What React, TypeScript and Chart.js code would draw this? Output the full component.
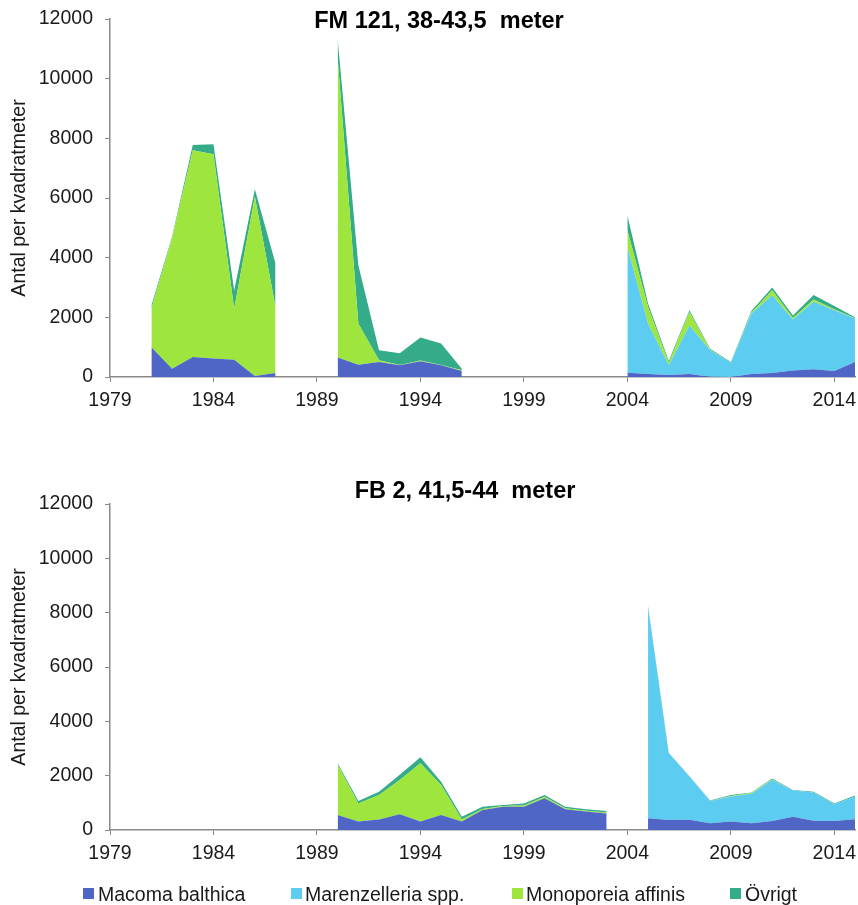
import React, { useEffect, useRef } from 'react';
import { Chart, registerables } from 'chart.js';

Chart.register(...registerables);

const N = null;

const years = [
  1979, 1980, 1981, 1982, 1983, 1984, 1985, 1986, 1987, 1988,
  1989, 1990, 1991, 1992, 1993, 1994, 1995, 1996, 1997, 1998,
  1999, 2000, 2001, 2002, 2003, 2004, 2005, 2006, 2007, 2008,
  2009, 2010, 2011, 2012, 2013, 2014, 2015,
];

const xTickLabels = [1979, 1984, 1989, 1994, 1999, 2004, 2009, 2014];
const yTickValues = [0, 2000, 4000, 6000, 8000, 10000, 12000];

const seriesNames = ['Macoma balthica', 'Marenzelleria spp.', 'Monoporeia affinis', 'Övrigt'];
const seriesColors = ['#4F66C6', '#5DCCF1', '#9EE53D', '#34AB89'];

const titleFM = 'FM 121, 38-43,5  meter';
const titleFB = 'FB 2, 41,5-44  meter';
const yTitle = 'Antal per kvadratmeter';

// FM 121 (top chart), one value per year 1979..2015, null = no sample
const fmMacoma = [N, N, 1000, 280, 670, 620, 580, 30, 130, N, N, 650, 410, 500, 390, 530, 390, 200, N, N, N, N, N, N, N, 140, 100, 70, 100, 10, 0, 100, 130, 220, 260, 200, 500];
const fmMarenz = [N, N, 0, 0, 0, 0, 0, 0, 0, N, N, 0, 0, 0, 0, 0, 0, 0, N, N, N, N, N, N, N, 4220, 1690, 320, 1630, 885, 480, 2025, 2610, 1705, 2260, 2040, 1460];
const fmMono = [N, N, 1300, 4370, 6930, 6850, 1710, 6010, 2220, N, N, 10050, 1380, 60, 10, 20, 10, 30, N, N, N, N, N, N, N, 560, 560, 80, 450, 20, 0, 40, 170, 50, 80, 30, 10];
const fmOvrigt = [N, N, 100, 50, 180, 330, 610, 250, 1450, N, N, 630, 1960, 340, 400, 770, 720, 50, N, N, N, N, N, N, N, 500, 110, 70, 60, 35, 20, 55, 90, 85, 150, 110, 30];

// FB 2 (bottom chart)
const fbMacoma = [N, N, N, N, N, N, N, N, N, N, N, 550, 310, 390, 580, 310, 550, 310, 740, 860, 860, 1170, 760, 680, 610, N, 430, 370, 380, 250, 310, 250, 330, 490, 340, 330, 400];
const fbMarenz = [N, N, N, N, N, N, N, N, N, N, N, 0, 0, 0, 0, 0, 0, 0, 0, 0, 0, 0, 0, 0, 0, N, 7800, 2460, 1590, 820, 920, 1080, 1510, 960, 1040, 620, 830];
const fbMono = [N, N, N, N, N, N, N, N, N, N, N, 1850, 670, 900, 1260, 2150, 1110, 80, 30, 20, 40, 50, 40, 30, 30, N, 0, 0, 0, 0, 20, 30, 20, 0, 0, 0, 0];
const fbOvrigt = [N, N, N, N, N, N, N, N, N, N, N, 60, 90, 120, 190, 220, 120, 100, 90, 40, 80, 70, 60, 50, 60, N, 20, 10, 10, 20, 40, 20, 40, 20, 30, 30, 40];

const FONT = "'Liberation Sans', Arial, Helvetica, sans-serif";
const AXIS = '#8A8A8A';
const TEXT = '#1A1A1A';

function buildConfig(series: (number | null)[][], padTop: number, padBottom: number): any {
  const datasets = series.map((vals, i) => ({
    label: seriesNames[i],
    data: years.map((yr, k) => ({ x: yr, y: vals[k] })),
    backgroundColor: seriesColors[i],
    borderColor: seriesColors[i],
    borderWidth: 0,
    pointRadius: 0,
    pointHoverRadius: 0,
    tension: 0,
    spanGaps: false,
    fill: i === 0 ? 'origin' : '-1',
  }));
  return {
    type: 'line',
    data: { datasets },
    options: {
      responsive: false,
      animation: false,
      events: [],
      layout: { padding: { top: padTop, right: 3, bottom: padBottom, left: 0 } },
      plugins: { legend: { display: false }, tooltip: { enabled: false }, title: { display: false } },
      scales: {
        x: {
          type: 'linear',
          min: 1979,
          max: 2015,
          afterBuildTicks: (s: any) => {
            s.ticks = xTickLabels.map((v) => ({ value: v }));
          },
          afterFit: (s: any) => {
            s.height = 40;
            s.paddingLeft = 0;
            s.paddingRight = 0;
          },
          ticks: {
            autoSkip: false,
            maxRotation: 0,
            padding: 7,
            color: TEXT,
            font: { family: FONT, size: 19.5 },
            callback: (v: any) => String(v),
          },
          grid: { display: true, drawOnChartArea: false, drawTicks: true, tickLength: 5, color: AXIS, lineWidth: 1 },
          border: { display: true, color: AXIS, width: 1.5 },
        },
        y: {
          stacked: true,
          min: 0,
          max: 12000,
          afterBuildTicks: (s: any) => {
            s.ticks = yTickValues.map((v) => ({ value: v }));
          },
          afterFit: (s: any) => {
            s.width = 110;
            s.paddingTop = 0;
            s.paddingBottom = 0;
          },
          ticks: {
            padding: 12,
            color: TEXT,
            font: { family: FONT, size: 19.5 },
            callback: (v: any) => String(v),
          },
          title: {
            display: true,
            text: yTitle,
            color: TEXT,
            font: { family: FONT, size: 19.5 },
            padding: { top: 8, bottom: 0 },
          },
          grid: { display: true, drawOnChartArea: false, drawTicks: true, tickLength: 5, color: AXIS, lineWidth: 1 },
          border: { display: true, color: AXIS, width: 1.5 },
        },
      },
    },
  };
}

const legendPos = [
  { box: 83, text: 98 },
  { box: 291, text: 305 },
  { box: 512, text: 526 },
  { box: 730, text: 745 },
];

export default function App() {
  const topRef = useRef<HTMLCanvasElement>(null);
  const botRef = useRef<HTMLCanvasElement>(null);

  useEffect(() => {
    const c1 = new Chart(topRef.current as HTMLCanvasElement, buildConfig([fmMacoma, fmMarenz, fmMono, fmOvrigt], 19, 13));
    const c2 = new Chart(botRef.current as HTMLCanvasElement, buildConfig([fbMacoma, fbMarenz, fbMono, fbOvrigt], 74, 35));
    return () => {
      c1.destroy();
      c2.destroy();
    };
  }, []);

  const titleStyle = (top: number, center: number): React.CSSProperties => ({
    position: 'absolute',
    left: center - 300,
    width: 600,
    top,
    textAlign: 'center',
    fontFamily: FONT,
    fontWeight: 'bold',
    fontSize: 23.5,
    lineHeight: '24px',
    whiteSpace: 'pre',
    color: '#000',
  });

  return (
    <div style={{ position: 'absolute', left: 0, top: 0, width: 858, height: 905, overflow: 'hidden', background: '#fff' }}>
      <canvas ref={topRef} width={858} height={430} style={{ position: 'absolute', left: 0, top: 0 }} />
      <canvas ref={botRef} width={858} height={475} style={{ position: 'absolute', left: 0, top: 430 }} />
      <div style={titleStyle(8, 439)}>{titleFM}</div>
      <div style={titleStyle(478, 465)}>{titleFB}</div>
      {seriesNames.map((name, i) => (
        <React.Fragment key={name}>
          <div
            style={{
              position: 'absolute',
              left: legendPos[i].box,
              top: 888,
              width: 11,
              height: 11,
              background: seriesColors[i],
            }}
          />
          <div
            style={{
              position: 'absolute',
              left: legendPos[i].text,
              top: 884,
              fontFamily: FONT,
              fontSize: 19.5,
              lineHeight: '20px',
              whiteSpace: 'pre',
              color: TEXT,
            }}
          >
            {name}
          </div>
        </React.Fragment>
      ))}
    </div>
  );
}
